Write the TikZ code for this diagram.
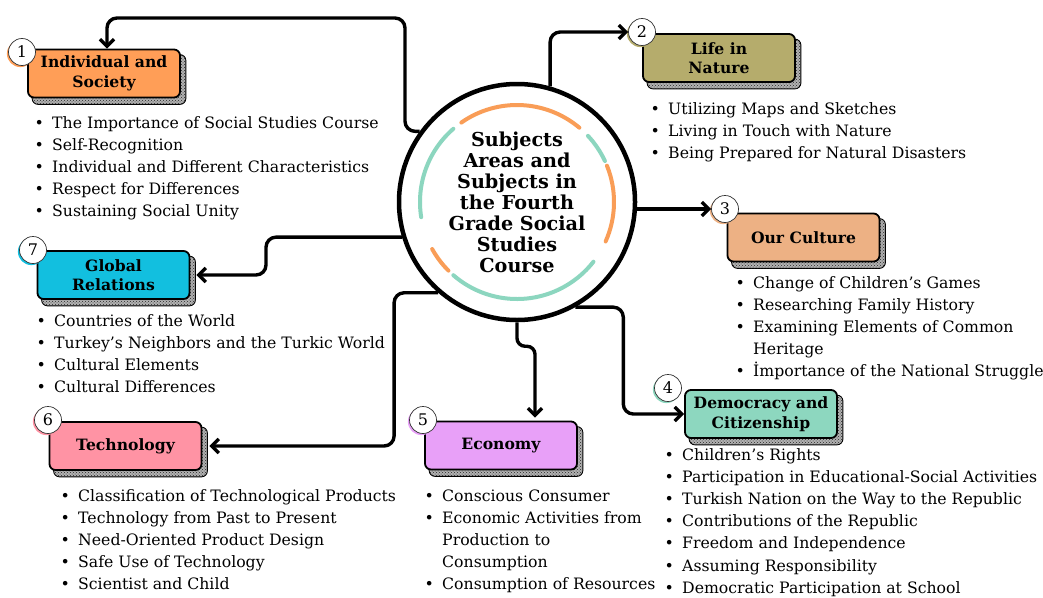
\documentclass[tikz,border=0pt]{standalone}
\usepackage{fontspec}
\setmainfont{DejaVu Serif}
\usetikzlibrary{arrows.meta,patterns,calc,shadows,backgrounds}
\definecolor{c1}{HTML}{FF9E57}
\definecolor{c2}{HTML}{B5AC6C}
\definecolor{c3}{HTML}{EDB184}
\definecolor{c4}{HTML}{8DD7BF}
\definecolor{c5}{HTML}{E8A0F8}
\definecolor{c6}{HTML}{FF93A4}
\definecolor{c7}{HTML}{12BFDF}
\definecolor{arcor}{HTML}{F99D57}
\definecolor{arcte}{HTML}{8CD6BF}
\newcommand\bl{\makebox[26pt][c]{\textbullet}}
\newcommand\listfont{\fontsize{15.7}{22.2}\selectfont}
\tikzset{
  box/.style={rectangle, rounded corners=6pt, draw=black, line width=1.8pt,
    minimum width=152pt, minimum height=48pt, inner sep=0pt, align=center,
    font=\fontsize{15.6}{19.5}\selectfont\bfseries},
  boxshadow/.style={rounded corners=6pt, draw=black, line width=0.9pt, fill=gray!60,
    postaction={pattern=crosshatch dots, pattern color=black!85}},
  numc/.style={circle, draw=black!80, line width=0.7pt, fill=white,
    minimum size=27pt, inner sep=0pt, font=\fontsize{16}{16}\selectfont,
    general shadow={fill=#1, shadow xshift=-1.6pt, shadow yshift=-1.6pt}},
  conn/.style={line width=3.4pt, rounded corners=10pt, line join=round,
    -{Straight Barb[length=7pt,width=14pt]}},
  blist/.style={anchor=base west, inner sep=0pt, font=\listfont},
  arcst/.style={line width=4pt, line cap=round},
}
\begin{document}
\begin{tikzpicture}[x=1pt,y=-1pt]
\useasboundingbox (0,0) rectangle (1043,597);

% centre circle
\node[circle, draw=black, line width=4.5pt, fill=white, minimum size=236pt, inner sep=0pt,
  align=center, font=\fontsize{19.2}{21}\selectfont\bfseries] (c) at (517,202)
  {Subjects\\Areas and\\Subjects in\\the Fourth\\Grade Social\\Studies\\Course};
\draw[arcst, arcor] ([shift={(50:97pt)}]c.center) arc[start angle=50, end angle=125, radius=97pt];
\draw[arcst, arcte] ([shift={(131:97pt)}]c.center) arc[start angle=131, end angle=189, radius=97pt];
\draw[arcst, arcor] ([shift={(209:97pt)}]c.center) arc[start angle=209, end angle=225, radius=97pt];
\draw[arcst, arcte] ([shift={(229:97pt)}]c.center) arc[start angle=229, end angle=322, radius=97pt];
\draw[arcst, arcor] ([shift={(336:97pt)}]c.center) arc[start angle=336, end angle=382, radius=97pt];
\draw[arcst, arcte] ([shift={(25:97pt)}]c.center) arc[start angle=25, end angle=43, radius=97pt];

% boxes
\node[box, fill=c1] (b1) at (104,73.5) {Individual and\\Society};
\node[box, fill=c2] (b2) at (719,58) {Life in\\Nature};
\node[box, fill=c3] (b3) at (803.5,237.5) {Our Culture};
\node[box, fill=c4] (b4) at (761,414) {Democracy and\\Citizenship};
\node[box, fill=c5] (b5) at (501,445.5) {Economy};
\node[box, fill=c6] (b6) at (125.5,446) {Technology};
\node[box, fill=c7] (b7) at (113.5,275) {Global\\Relations};

\begin{scope}[on background layer]
\foreach \b in {b1,b2,b3,b4,b5,b6,b7}{
  \path[boxshadow] ($(\b.south west)+(5,6)$) rectangle ($(\b.north east)+(5,6)$);
}
\end{scope}

% number circles
\node[numc=c1] (n1) at (22,52) {1};
\node[numc=c2] (n2) at (642,32) {2};
\node[numc=c3] (n3) at (725,209) {3};
\node[numc=c4] (n4) at (668,388) {4};
\node[numc=c5] (n5) at (423,420) {5};
\node[numc=c6] (n6) at (48,420) {6};
\node[numc=c7] (n7) at (33,250) {7};

% connectors
\draw[conn] (c.144) -| (405,18) -| ($(b1.north)+(3,0)$);
\draw[conn] (c.74) |- (n2.west);
\draw[conn] (n3.west -| c.east) -- (n3.west);
\draw[conn] (c.-61) -- ++(48,0) |- (b4.west);
\draw[conn, rounded corners=8pt] (c.south) -- ++(0,24) -| ($(b5.north)+(34,-3)$);
\draw[conn] (c.229) -- ++(-44,0) |- ($(b6.east)+(7,0)$);
\draw[conn] (c.197) -- ++(-136,0) |- ($(b7.east)+(6,0)$);

% lists
\node[blist] (l1) at (26,128) {\begin{tabular}[t]{@{}l@{}l@{}}
\bl & The Importance of Social Studies Course\\
\bl & Self-Recognition\\
\bl & Individual and Different Characteristics\\
\bl & Respect for Differences\\
\bl & Sustaining Social Unity
\end{tabular}};
\node[blist] (l2) at (642,114) {\begin{tabular}[t]{@{}l@{}l@{}}
\bl & Utilizing Maps and Sketches\\
\bl & Living in Touch with Nature\\
\bl & Being Prepared for Natural Disasters
\end{tabular}};
\node[blist] (l3) at (727,288) {\begin{tabular}[t]{@{}l@{}l@{}}
\bl & Change of Children’s Games\\
\bl & Researching Family History\\
\bl & Examining Elements of Common\\
 & Heritage\\
\bl & İmportance of the National Struggle
\end{tabular}};
\node[blist] (l4) at (656,460) {\begin{tabular}[t]{@{}l@{}l@{}}
\bl & Children’s Rights\\
\bl & Participation in Educational-Social Activities\\
\bl & Turkish Nation on the Way to the Republic\\
\bl & Contributions of the Republic\\
\bl & Freedom and Independence\\
\bl & Assuming Responsibility\\
\bl & Democratic Participation at School
\end{tabular}};
\node[blist] (l5) at (416,501) {\begin{tabular}[t]{@{}l@{}l@{}}
\bl & Conscious Consumer\\
\bl & Economic Activities from\\
 & Production to\\
 & Consumption\\
\bl & Consumption of Resources
\end{tabular}};
\node[blist] (l6) at (52,501) {\begin{tabular}[t]{@{}l@{}l@{}}
\bl & Classification of Technological Products\\
\bl & Technology from Past to Present\\
\bl & Need-Oriented Product Design\\
\bl & Safe Use of Technology\\
\bl & Scientist and Child
\end{tabular}};
\node[blist] (l7) at (28,326) {\begin{tabular}[t]{@{}l@{}l@{}}
\bl & Countries of the World\\
\bl & Turkey’s Neighbors and the Turkic World\\
\bl & Cultural Elements\\
\bl & Cultural Differences
\end{tabular}};
\end{tikzpicture}
\end{document}
